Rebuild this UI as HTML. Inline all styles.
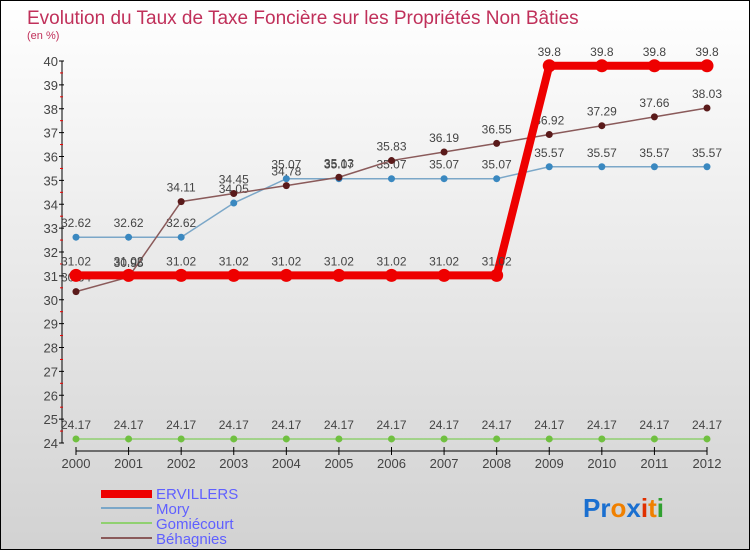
<!DOCTYPE html>
<html><head><meta charset="utf-8"><style>
body{margin:0}
#c{position:relative;width:748px;height:548px;border:1px solid #000;background:linear-gradient(#fff,#d2d2d2);font-family:"Liberation Sans",sans-serif;overflow:hidden}
</style></head><body>
<div id="c">
<svg id="s" width="748" height="548" xmlns="http://www.w3.org/2000/svg">
<text x="26" y="23" font-size="19" fill="#c0305a">Evolution du Taux de Taxe Foncière sur les Propriétés Non Bâties</text>
<text x="26" y="38" font-size="11" fill="#c0305a">(en %)</text>
<g id="ax"></g><g id="ser"></g>
<g>
<rect x="100" y="489" width="51" height="8" fill="#e00"/>
<text x="155" y="498" font-size="15" fill="#6060ff">ERVILLERS</text>
<rect x="100" y="506" width="51" height="2" fill="#7ba7c8"/>
<text x="155" y="513" font-size="15" fill="#6060ff">Mory</text>
<rect x="100" y="521" width="51" height="2" fill="#90d070"/>
<text x="155" y="528" font-size="15" fill="#6060ff">Gomiécourt</text>
<rect x="100" y="536" width="51" height="2" fill="#8a5a5a"/>
<text x="155" y="543" font-size="15" fill="#6060ff">Béhagnies</text>
</g>
<text x="582" y="516" font-size="26" font-weight="bold"><tspan fill="#1a6fd0">Pr</tspan><tspan fill="#f08000">o</tspan><tspan fill="#1a6fd0">x</tspan><tspan fill="#e03000">i</tspan><tspan fill="#f08000">t</tspan><tspan fill="#30a030">i</tspan></text>
</svg></div>
<script>
const years=[2000,2001,2002,2003,2004,2005,2006,2007,2008,2009,2010,2011,2012];
const ervillers=[31.02,31.02,31.02,31.02,31.02,31.02,31.02,31.02,31.02,39.8,39.8,39.8,39.8];
const mory=[32.62,32.62,32.62,34.05,35.07,35.07,35.07,35.07,35.07,35.57,35.57,35.57,35.57];
const gomiecourt=[24.17,24.17,24.17,24.17,24.17,24.17,24.17,24.17,24.17,24.17,24.17,24.17,24.17];
const behagnies=[30.34,30.95,34.11,34.45,34.78,35.13,35.83,36.19,36.55,36.92,37.29,37.66,38.03];
const yTicks=[24,25,26,27,28,29,30,31,32,33,34,35,36,37,38,39,40];
const NS="http://www.w3.org/2000/svg";
const x=i=>75+i*(706-75)/(years.length-1);
const y=v=>442-(v-24)*(442-60)/16;
function mk(t,a,p){const e=document.createElementNS(NS,t);for(const k in a)e.setAttribute(k,a[k]);p.appendChild(e);return e;}
const ax=document.getElementById('ax'),ser=document.getElementById('ser');
const yl=mk('line',{x1:61,y1:60,x2:61,y2:442,stroke:'#000'},ax);


yTicks.forEach(v=>{
 mk('line',{x1:58,x2:63,y1:y(v),y2:y(v),stroke:'#000'},ax);
 if(v<40)mk('line',{x1:59,x2:62,y1:y(v+0.5),y2:y(v+0.5),stroke:'#e00'},ax);
 const t=mk('text',{x:57,y:y(v)+5,'font-size':13,'text-anchor':'end',fill:'#444'},ax);t.textContent=v;
 
 
});
const xl=mk('line',{x1:75,y1:450,x2:706,y2:450,stroke:'#000'},ax);


years.forEach((yr,i)=>{
 mk('line',{x1:x(i),x2:x(i),y1:446,y2:454,stroke:'#000'},ax);
 const t=mk('text',{x:x(i),y:467,'font-size':13,'text-anchor':'middle',fill:'#444'},ax);t.textContent=yr;
 
 
});
function series(vals,col,w,r,dot,name){
 const g=mk('g',{},ser);
 
 
 mk('polyline',{points:vals.map((v,i)=>x(i)+','+y(v)).join(' '),fill:'none',stroke:col,'stroke-width':w},g);
 vals.forEach((v,i)=>{
  const c=mk('circle',{cx:x(i),cy:y(v),r:r,fill:dot},g);
  
  
  const t=mk('text',{x:x(i),y:y(v)-10,'font-size':12,'text-anchor':'middle',fill:'#444'},g);t.textContent=v;
  
  
 });
}
series(gomiecourt,'#90d070',1.5,3.5,'#70c040','gomiecourt');
series(mory,'#7ba7c8',1.5,3.5,'#3a88c0','mory');
series(behagnies,'#8a5a5a',1.5,3.5,'#5a1a1a','behagnies');
series(ervillers,'#e00',8,6.5,'#e00','ervillers');
</script>
</body></html>
